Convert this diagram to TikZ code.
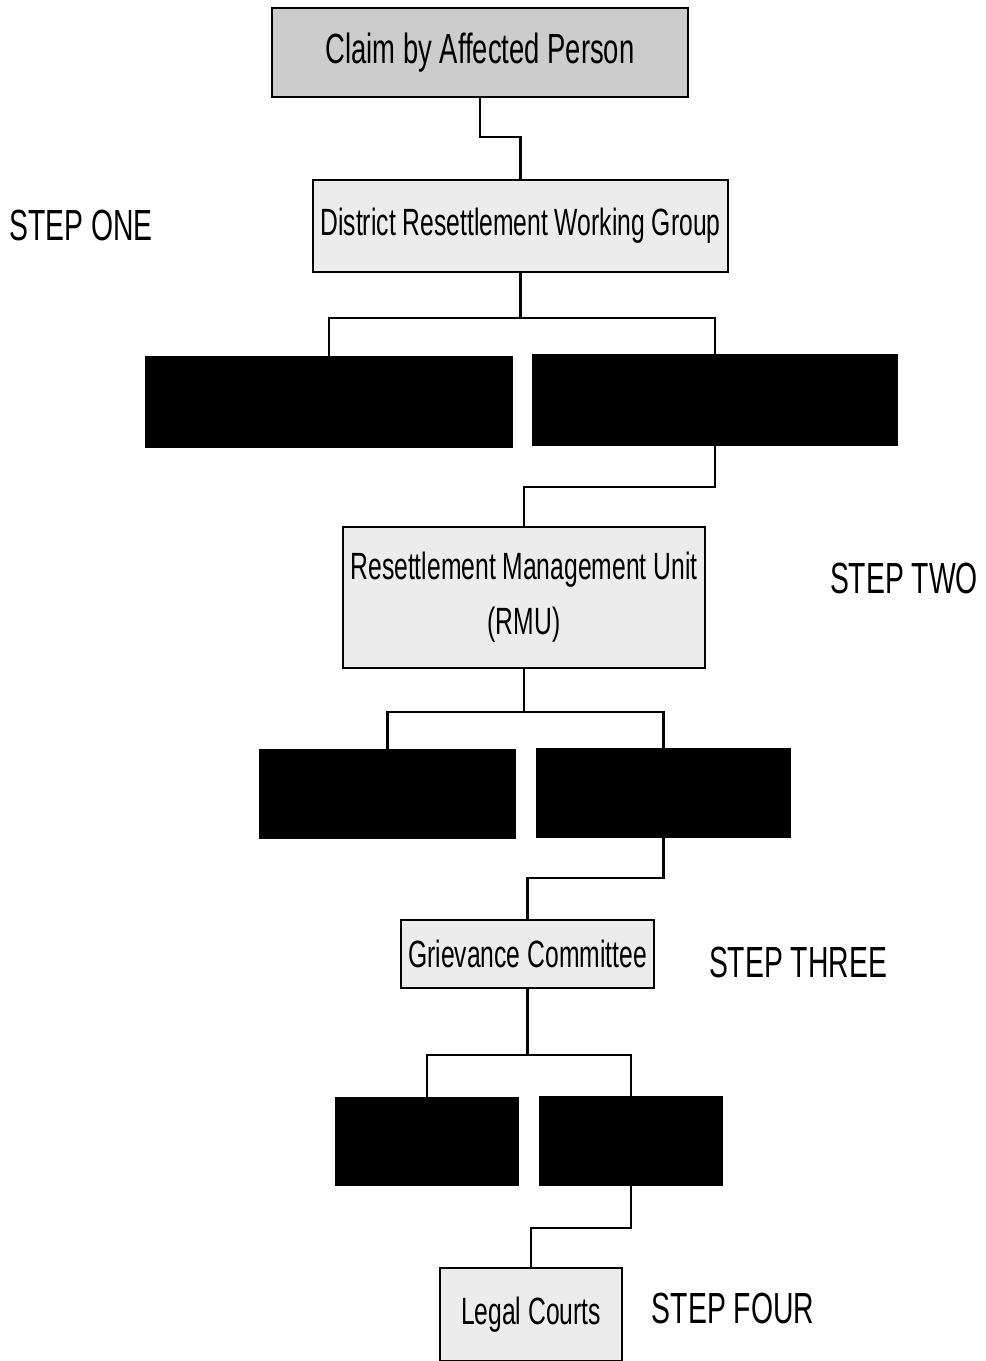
\documentclass[tikz,border=0pt]{standalone}
\usepackage{fontspec}
\setmainfont{Liberation Sans}[FakeStretch=0.65]
\usepackage{tikz}
\usetikzlibrary{positioning}

\begin{document}
\begin{tikzpicture}[
    x=0.025cm, y=-0.025cm,
    line width=1.6pt,
    font=\fontsize{27}{39}\selectfont,
    box/.style={rectangle, draw, fill=gray!15, inner sep=1pt, align=center},
    blackbox/.style={rectangle, draw, fill=black},
    steplabel/.style={font=\fontsize{31}{36}\selectfont}
]
\useasboundingbox (0,0) rectangle (986,1361);
\node[box, fill=gray!40, font=\fontsize{30}{36}\selectfont, minimum width=10.4cm, minimum height=2.225cm] (claim) at (480,52.5) {Claim by Affected Person};
\node[box, minimum width=10.375cm, minimum height=2.3cm] (drwg) at (520.5,226) {District Resettlement Working Group};
\node[blackbox, minimum width=9.15cm, minimum height=2.25cm] (blkA1) at (329,402) {};
\node[blackbox, minimum width=9.1cm, minimum height=2.25cm] (blkA2) at (715,400) {};
\node[box, minimum width=9.05cm, minimum height=3.525cm] (rmu) at (524,597.5) {Resettlement Management Unit\\(RMU)};
\node[blackbox, minimum width=6.375cm, minimum height=2.2cm] (blkB1) at (387.5,794) {};
\node[blackbox, minimum width=6.325cm, minimum height=2.2cm] (blkB2) at (663.5,793) {};
\node[box, minimum width=6.325cm, minimum height=1.7cm] (grv) at (527.5,954) {Grievance Committee};
\node[blackbox, minimum width=4.55cm, minimum height=2.175cm] (blkC1) at (427,1141.5) {};
\node[blackbox, minimum width=4.55cm, minimum height=2.2cm] (blkC2) at (631,1141) {};
\node[box, minimum width=4.55cm, minimum height=2.325cm] (legal) at (531,1314.5) {Legal Courts};
\node[steplabel] (lblone) at (81,225) {STEP ONE};
\node[steplabel] (lbltwo) at (904,578) {STEP TWO};
\node[steplabel] (lblthree) at (798,962) {STEP THREE};
\node[steplabel] (lblfour) at (733,1308) {STEP FOUR};
\coordinate (j1) at (500,137);
\coordinate (s1) at (520.5,318);
\coordinate (j2) at (600,487);
\coordinate (s2) at (524,712);
\coordinate (j3) at (600,878);
\coordinate (s3) at (527.5,1055);
\coordinate (j4) at (580,1228);
\draw (claim.south) |- (j1) -| (drwg.north);
\draw (drwg.south) -- (s1);
\draw (blkA1.north) |- (s1) -| (blkA2.north);
\draw (blkA2.south) |- (j2) -| (rmu.north);
\draw (rmu.south) -- (s2);
\draw (blkB1.north) |- (s2) -| (blkB2.north);
\draw (blkB2.south) |- (j3) -| (grv.north);
\draw (grv.south) -- (s3);
\draw (blkC1.north) |- (s3) -| (blkC2.north);
\draw (blkC2.south) |- (j4) -| (legal.north);
\end{tikzpicture}
\end{document}
